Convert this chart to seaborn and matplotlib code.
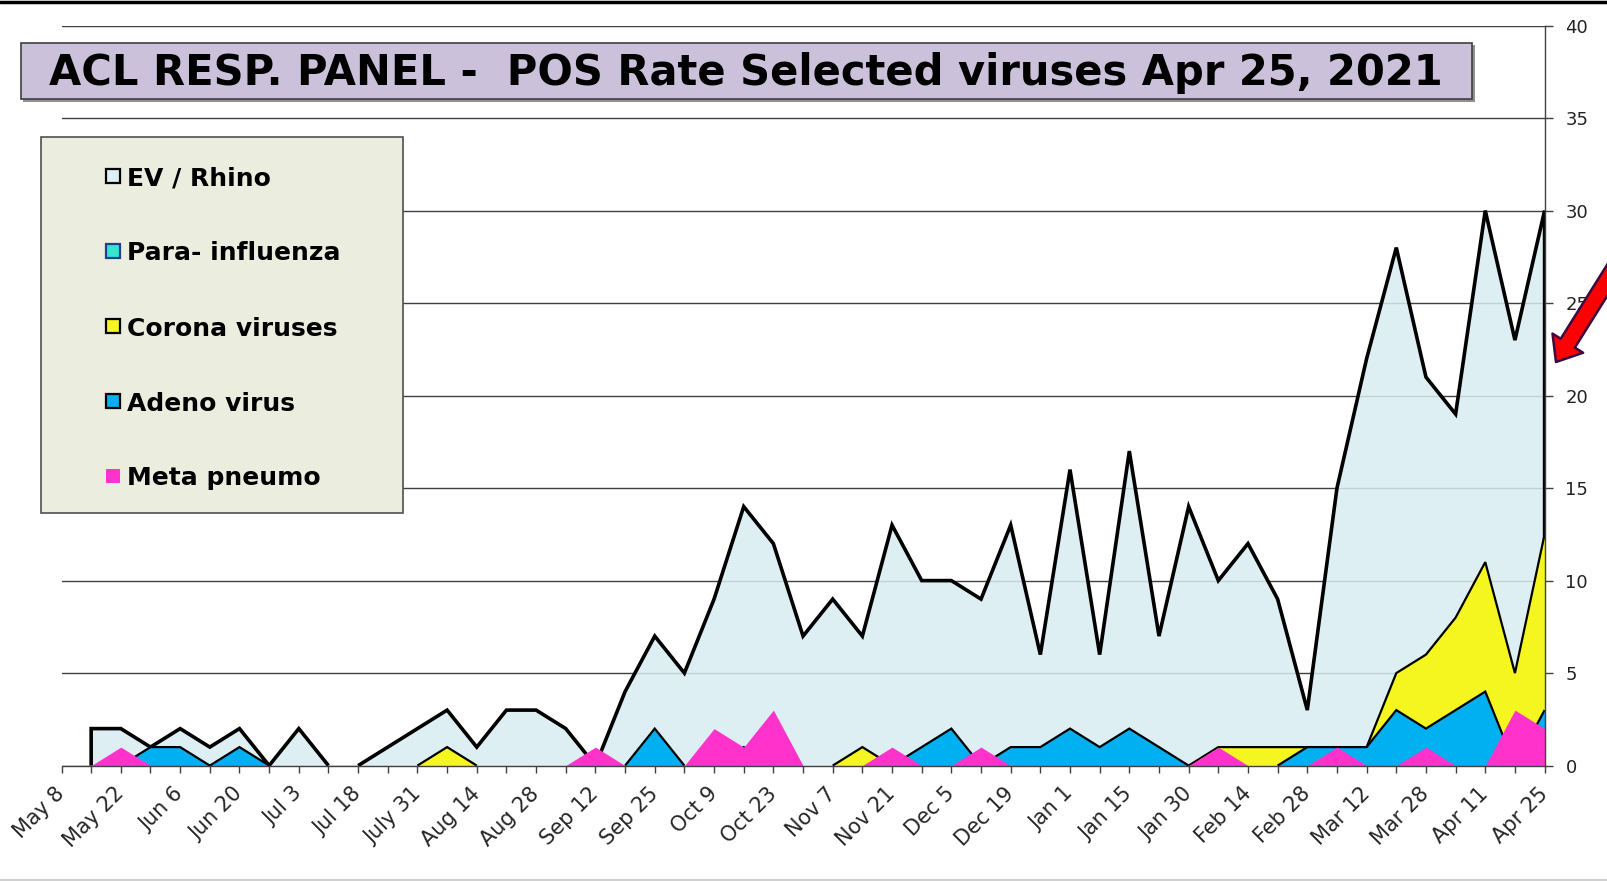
import numpy as np
import matplotlib
matplotlib.use("Agg")
import matplotlib.pyplot as plt
import seaborn as sns
from matplotlib.patches import Rectangle, FancyArrowPatch
from matplotlib.lines import Line2D

# weekly points, May 8 2020 .. Apr 25 2021
tick_labels = ["May 8", "May 22", "Jun 6", "Jun 20", "Jul 3", "Jul 18", "July 31",
               "Aug 14", "Aug 28", "Sep 12", "Sep 25", "Oct 9", "Oct 23", "Nov 7",
               "Nov 21", "Dec 5", "Dec 19", "Jan 1", "Jan 15", "Jan 30", "Feb 14",
               "Feb 28", "Mar 12", "Mar 28", "Apr 11", "Apr 25"]

ev_rhino = [np.nan, 2, 2, 1, 2, 1, 2, 0, 2, 0,
            0, 1, 2, 3, 1, 3, 3, 2, 0, 4,
            7, 5, 9, 14, 12, 7, 9, 7, 13, 10,
            10, 9, 13, 6, 16, 6, 17, 7, 14, 10,
            12, 9, 3, 15, 22, 28, 21, 19, 30, 23,
            30]
para_flu = [0, 0, 0, 0, 0, 0, 0, 0, 0, 0,
            0, 0, 0, 0, 0, 0, 0, 0, 0, 0,
            0, 0, 0, 0, 0, 0, 0, 0, 0, 0,
            0, 0, 0, 0, 0, 0, 0, 0, 0, 0,
            0, 0, 0, 0, 0, 0, 0, 0, 0, 0,
            0]
corona = [0, 0, 0, 0, 0, 0, 0, 0, 0, 0,
          0, 0, 0, 1, 0, 0, 0, 0, 0, 0,
          0, 0, 0, 0, 0, 0, 0, 1, 0, 0,
          0, 0, 0, 0, 0, 0, 0, 0, 0, 1,
          1, 1, 1, 1, 1, 5, 6, 8, 11, 5,
          12.5]
adeno = [0, 0, 0, 1, 1, 0, 1, 0, 0, 0,
         0, 0, 0, 0, 0, 0, 0, 0, 0, 0,
         2, 0, 0, 1, 0, 0, 0, 0, 0, 1,
         2, 0, 1, 1, 2, 1, 2, 1, 0, 0,
         0, 0, 1, 1, 1, 3, 2, 3, 4, 0,
         3]
meta_pneumo = [0, 0, 1, 0, 0, 0, 0, 0, 0, 0,
               0, 0, 0, 0, 0, 0, 0, 0, 1, 0,
               0, 0, 2, 1, 3, 0, 0, 0, 1, 0,
               0, 1, 0, 0, 0, 0, 0, 0, 0, 1,
               0, 0, 0, 1, 0, 0, 1, 0, 0, 3,
               2]

legend_names = ["EV / Rhino", "Para- influenza", "Corona viruses", "Adeno virus", "Meta pneumo"]
fill_cols = ["#D9EDF3", "#33E6CC", "#F5F520", "#00B0F0", "#FF33CC"]
edge_cols = ["black", "#1F3F8F", "black", "black", None]

W, H = 1607, 881
sns.set_theme(style="white")
# the slide text is a stretched Arial, DejaVu is the closest wide sans
plt.rcParams["font.family"] = ["DejaVu Sans"]

fig = plt.figure(figsize=(W / 100, H / 100), dpi=100)
ax = fig.add_axes([61.5 / W, 1 - 765.6 / H, (1544.6 - 61.5) / W, (765.6 - 25.6) / H])


def fx(x):
    return x / W


def fy(y):
    return 1 - y / H


def outline(ax, x, y, lw, z, close_ends=False):
    # draw the top edge of an area, skipping flat runs on the baseline
    y = np.asarray(y, dtype=float)
    runs, cur = [], []
    for i in range(len(y) - 1):
        a, b = y[i], y[i + 1]
        ok = np.isfinite(a) and np.isfinite(b) and max(a, b) > 0
        if ok:
            if not cur:
                cur = [(x[i], a)]
            cur.append((x[i + 1], b))
        elif cur:
            runs.append(cur)
            cur = []
    if cur:
        runs.append(cur)
    if close_ends and runs:
        runs[0].insert(0, (runs[0][0][0], 0))
        runs[-1].append((runs[-1][-1][0], 0))
    for r in runs:
        xs, ys = zip(*r)
        ax.plot(xs, ys, color="black", lw=lw, zorder=z, solid_joinstyle="miter",
                solid_capstyle="butt")


x = np.arange(len(ev_rhino))
ax.fill_between(x, 0, ev_rhino, color=fill_cols[0], alpha=0.85, lw=0, zorder=1)
outline(ax, x, ev_rhino, 2.6, 2, close_ends=True)
ax.fill_between(x, 0, para_flu, color=fill_cols[1], lw=0, zorder=2.5)
ax.fill_between(x, 0, corona, color=fill_cols[2], lw=0, zorder=3)
outline(ax, x, corona, 1.6, 3.1)
ax.fill_between(x, 0, adeno, color=fill_cols[3], lw=0, zorder=4)
outline(ax, x, adeno, 1.6, 4.1)
ax.fill_between(x, 0, meta_pneumo, color=fill_cols[4], lw=0, zorder=5)

ax.set_xlim(0, len(x) - 1)
ax.set_ylim(0, 40)
ax.set_axisbelow(True)
ax.yaxis.grid(True, color="#404040", lw=1.0)
ax.xaxis.grid(False)
ax.set_yticks(range(0, 41, 5))
ax.yaxis.tick_right()
ax.set_xticks(x)
ax.set_xticklabels([tick_labels[i // 2] if i % 2 == 0 else "" for i in x],
                   rotation=45, ha="right", va="center", rotation_mode="anchor", fontsize=15)
ax.tick_params(axis="x", direction="out", length=5, width=1, color="#404040",
               bottom=True, pad=13)
ax.tick_params(axis="y", direction="out", length=6, width=1, color="#404040",
               right=True, left=False, labelsize=13, pad=9, labelcolor="#222222")
for s in ["left", "top"]:
    ax.spines[s].set_visible(False)
for s in ["right", "bottom"]:
    ax.spines[s].set_color("#404040")
    ax.spines[s].set_linewidth(1.0)
    ax.spines[s].set_zorder(10)
ax.set_xlabel("")
ax.set_ylabel("")

# slide frame lines
fig.add_artist(Line2D([0, 1], [fy(2), fy(2)], color="black", lw=2.5, transform=fig.transFigure))
fig.add_artist(Line2D([0, 1], [fy(879.5), fy(879.5)], color="#D0D0D0", lw=1.5,
                      transform=fig.transFigure))

# title box
fig.add_artist(Rectangle((fx(23), fy(101.5)), fx(1452), 56.4 / H, transform=fig.transFigure,
                         facecolor="#909090", edgecolor="none", zorder=19))
fig.add_artist(Rectangle((fx(20.5), fy(99.4)), fx(1451.5), 56.4 / H, transform=fig.transFigure,
                         facecolor="#CCC1DA", edgecolor="#404040", lw=1.2, zorder=20))
fig.text(fx(746), fy(85), "ACL RESP. PANEL -  POS Rate Selected viruses Apr 25, 2021",
         ha="center", va="baseline", fontsize=30, fontweight="bold", color="black", zorder=21)

# legend box
fig.add_artist(Rectangle((fx(41), fy(512.5)), fx(362), 375.2 / H, transform=fig.transFigure,
                         facecolor="#EBEDDF", edgecolor="#505050", lw=1.2, zorder=20))
for k, name in enumerate(legend_names):
    base = 185.5 + 75 * k
    ec = edge_cols[k]
    fig.add_artist(Rectangle((fx(106), fy(base - 2.5)), fx(14), 14 / H, transform=fig.transFigure,
                             facecolor=fill_cols[k] if k else "#DDEEF5",
                             edgecolor=ec if ec else "none", lw=1.6, zorder=21))
    fig.text(fx(127), fy(base), name, ha="left", va="baseline", fontsize=18,
             fontweight="bold", color="black", zorder=21)

# red pointer arrow
arrow = FancyArrowPatch((fx(1640), fy(228)), (fx(1556), fy(362)), transform=fig.transFigure,
                        arrowstyle="simple,head_length=1.6,head_width=2.6,tail_width=1.2",
                        mutation_scale=10, shrinkA=0, shrinkB=0,
                        facecolor="#FF0000", edgecolor="#3A0A40", lw=1.8, zorder=30)
fig.add_artist(arrow)

fig.savefig("out.png", dpi=100)
